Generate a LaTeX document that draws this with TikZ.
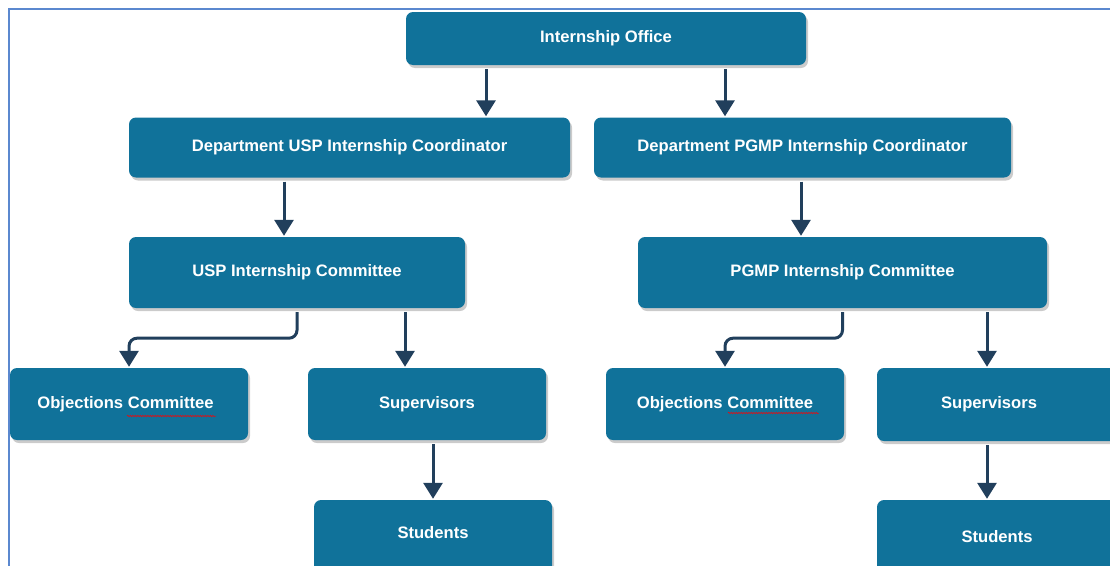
\documentclass[tikz,border=0pt]{standalone}
\usepackage{fontspec}
\setmainfont{Liberation Sans}
\usetikzlibrary{arrows.meta,shadows,decorations.pathmorphing}
\definecolor{boxblue}{HTML}{10729A}
\definecolor{arrdark}{HTML}{213F5C}
\definecolor{framecol}{HTML}{5B88CF}
\tikzset{
  orgbox/.style={rectangle, rounded corners=7pt, fill=boxblue, text=white,
    font=\fontsize{16.6}{19}\selectfont\bfseries, inner sep=0pt,
    drop shadow={shadow xshift=2pt, shadow yshift=-3pt, fill=black!45, opacity=0.45}},
  arr/.style={draw=arrdark, line width=3pt, -{Triangle[width=19pt,length=16pt]},
    shorten <=4pt, shorten >=1pt},
  spell/.style={draw=red, line width=0.5pt,
    decorate, decoration={snake, segment length=2.5pt, amplitude=0.7pt}}
}
\begin{document}
\begin{tikzpicture}[x=1pt,y=-1pt]
\useasboundingbox (0,0) rectangle (1110,565);
\clip (0,0) rectangle (1110,565);
\draw[framecol, line width=1.3pt] (9,580) -- (9,9) -- (1120,9);

\node[orgbox, minimum width=400pt, minimum height=53pt] (office) at (606,38.5) {Internship Office};
\node[orgbox, minimum width=441pt, minimum height=60pt] (dusp) at (349.5,147.5) {Department USP Internship Coordinator};
\node[orgbox, minimum width=417pt, minimum height=60pt] (dpgmp) at (802.5,147.5) {Department PGMP Internship Coordinator};
\node[orgbox, minimum width=336pt, minimum height=71pt] (cusp) at (297,272.5) {USP Internship Committee};
\node[orgbox, minimum width=409pt, minimum height=71pt] (cpgmp) at (842.5,272.5) {PGMP Internship Committee};
\node[orgbox, minimum width=238pt, minimum height=72pt] (objL) at (129,404) {Objections Committee\hspace*{7pt}};
\node[orgbox, minimum width=238pt, minimum height=72pt] (supL) at (427,404) {Supervisors\raisebox{0pt}[0pt][3pt]{}};
\node[orgbox, minimum width=238pt, minimum height=80pt, text depth=15pt] (stuL) at (433,540) {Students};
\node[orgbox, minimum width=238pt, minimum height=72pt] (objR) at (725,404) {Objections Committee};
\node[orgbox, minimum width=240pt, minimum height=73pt] (supR) at (997,404.5) {Supervisors\hspace*{16pt}};
\node[orgbox, minimum width=240pt, minimum height=80pt, text depth=8pt] (stuR) at (997,540) {Students};

\coordinate (a1) at ([xshift=-120pt]office.south);
\coordinate (a2) at ([xshift=119pt]office.south);
\coordinate (a3) at ([xshift=-65.5pt]dusp.south);
\coordinate (a4) at ([xshift=-1.5pt]dpgmp.south);
\coordinate (a6) at ([xshift=108pt]cusp.south);
\coordinate (a9) at ([xshift=144.5pt]cpgmp.south);

\draw[arr] (a1) -- (a1 |- dusp.north);
\draw[arr] (a2) -- (a2 |- dpgmp.north);
\draw[arr] (a3) -- (a3 |- cusp.north);
\draw[arr] (a4) -- (a4 |- cpgmp.north);
\draw[arr, rounded corners=8pt] (cusp.south) -- ([yshift=-30pt]cusp.south) -| (objL.north);
\draw[arr] (a6) -- (a6 |- supL.north);
\draw[arr] (stuL.north |- supL.south) -- (stuL.north);
\draw[arr, rounded corners=8pt] (cpgmp.south) -- ([yshift=-30pt]cpgmp.south) -| (objR.north);
\draw[arr] (a9) -- (a9 |- supR.north);
\draw[arr] (a9 |- supR.south) -- (a9 |- stuR.north);

\draw[spell] (127,416) -- (216,416);
\draw[spell] (728,413) -- (819,413);
\end{tikzpicture}
\end{document}
